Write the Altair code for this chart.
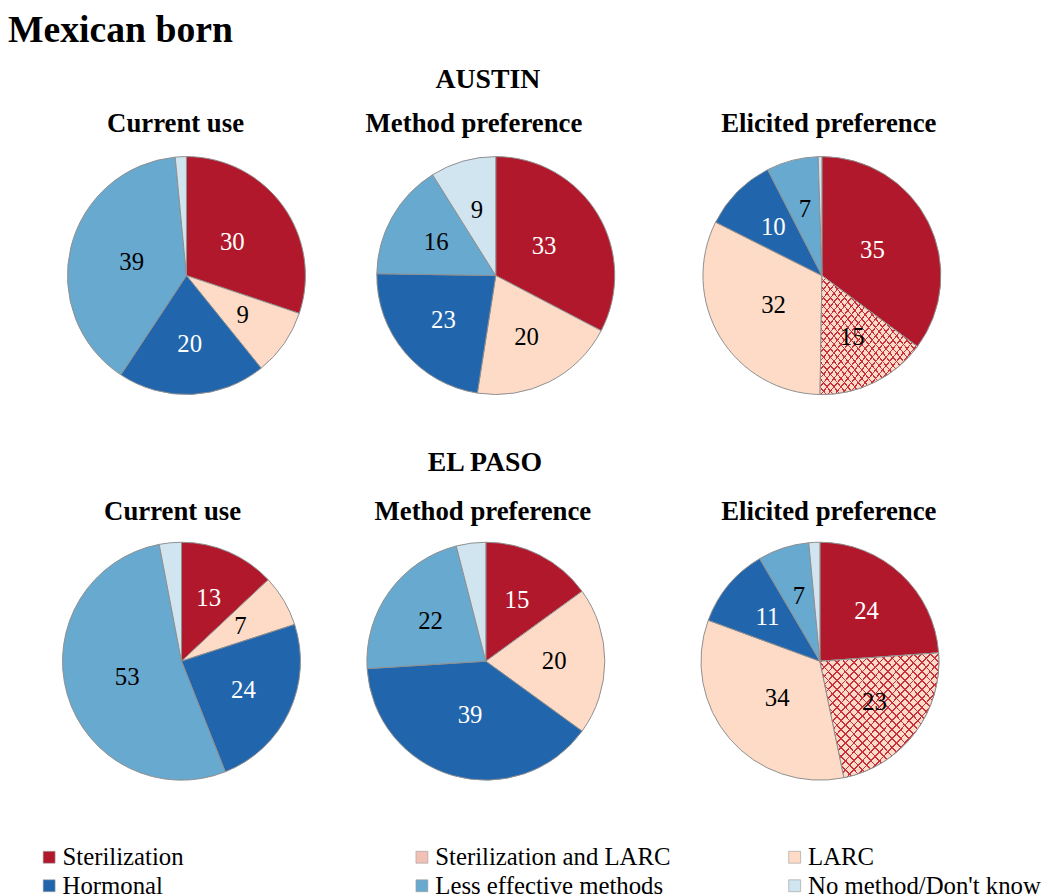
import altair as alt
import pandas as pd

categories = ["Sterilization", "Sterilization and LARC", "LARC", "Hormonal",
              "Less effective methods", "No method/Don't know"]
colors = ["#b2182b", "#f3c0b6", "#fddbc7", "#2166ac", "#67a9cf", "#d1e5f0"]
# legend reads row by row: Sterilization | Sterilization and LARC | LARC / Hormonal | Less effective | No method
legend_order = [0, 3, 1, 4, 2, 5]

austin_current = [30, 0, 9, 20, 39, 1.5]
austin_method = [33, 0, 20, 23, 16, 9]
austin_elicited = [35, 15, 32, 10, 7, 0.5]
elpaso_current = [13, 0, 7, 24, 53, 3]
elpaso_method = [15, 0, 20, 39, 22, 4]
elpaso_elicited = [24, 23, 34, 11, 7, 1.5]

FONT = "Liberation Serif"
GRAY = "#8f8f8f"
R = 120
HATCH_RED = "#c8303f"
HATCH_BG = "#fddbc7"


def hatch_gradient(x1, y1, x2, y2, bg, line, n=28, frac=0.2):
    stops = []
    for k in range(n):
        a = k / n
        b = (k + frac) / n
        c = (k + 1) / n
        stops += [alt.GradientStop(offset=a, color=line),
                  alt.GradientStop(offset=b, color=line),
                  alt.GradientStop(offset=b, color=bg),
                  alt.GradientStop(offset=c, color=bg)]
    return alt.LinearGradient(gradient="linear", stops=stops, x1=x1, y1=y1, x2=x2, y2=y2)


grad1 = hatch_gradient(0, 0, 1, 1, HATCH_BG, HATCH_RED)
grad2 = hatch_gradient(1, 0, 0, 1, "rgba(255,255,255,0)", HATCH_RED)

dom = [categories[i] for i in legend_order]
rng = [colors[i] for i in legend_order]

legend = alt.Legend(
    title=None, orient="none", legendX=29, legendY=694, columns=3, padding=0,
    symbolType="square", symbolSize=144, symbolStrokeColor="#9a9a9a",
    symbolStrokeWidth=0.6, labelFont=FONT, labelFontSize=25, labelColor="black",
    labelOffset=1, labelLimit=320, columnPadding=112, rowPadding=3, gridAlign="all",
)

hatched = alt.FieldEqualPredicate(field="category", equal="Sterilization and LARC")
dark = alt.FieldOneOfPredicate(field="category", oneOf=["Sterilization", "Hormonal"])


def pie(values, title, dx, width, toff):
    df = pd.DataFrame({"category": categories, "value": values, "idx": list(range(len(categories)))})
    df = df[df["value"] > 0]
    base = alt.Chart(df).encode(
        theta=alt.Theta("value:Q", stack=True),
        order=alt.Order("idx:Q"),
    )
    arcs = base.mark_arc(radius=R, stroke=GRAY, strokeWidth=1).encode(
        color=alt.Color("category:N", scale=alt.Scale(domain=dom, range=rng), legend=legend)
    )
    h1 = base.mark_arc(radius=R, fill=grad1, strokeWidth=0).encode(
        opacity=alt.condition(hatched, alt.value(1), alt.value(0))
    )
    h2 = base.mark_arc(radius=R, fill=grad2, stroke=GRAY, strokeWidth=1).encode(
        opacity=alt.condition(hatched, alt.value(1), alt.value(0))
    )
    txt_color = alt.condition(dark, alt.value("white"), alt.value("black"))
    big = base.mark_text(radius=57, font=FONT, fontSize=25).encode(
        text=alt.Text("label:N"), color=txt_color,
    ).transform_calculate(label="datum.value >= 25 ? '' + datum.value : ''")
    small = base.mark_text(radius=69, font=FONT, fontSize=25).encode(
        text=alt.Text("label:N"), color=txt_color,
    ).transform_calculate(label="datum.value >= 5 && datum.value < 25 ? '' + datum.value : ''")
    return alt.layer(arcs, h1, h2, big, small).properties(
        width=width, height=2 * R,
        title=alt.Title(title, dx=dx, anchor="middle", fontSize=27, offset=toff),
    )


row1 = alt.hconcat(
    pie(austin_current, "Current use", -11, 360, 17),
    pie(austin_method, "Method preference", -22, 256, 17),
    pie(austin_elicited, "Elicited preference", 7, 402, 17),
    spacing=0,
    title=alt.Title("AUSTIN", anchor="middle", dx=-27, fontSize=28, offset=16),
)
row2 = alt.hconcat(
    pie(elpaso_current, "Current use", -9, 350, 14),
    pie(elpaso_method, "Method preference", -3, 264, 14),
    pie(elpaso_elicited, "Elicited preference", 9, 410, 14),
    spacing=0,
    title=alt.Title("EL PASO", anchor="middle", dx=-31, fontSize=28, offset=22),
)

chart = alt.vconcat(row1, row2, spacing=53).properties(
    title=alt.Title("Mexican born", anchor="start", fontSize=38, offset=17),
    padding={"left": 0, "top": 0, "right": 0, "bottom": 0},
).resolve_scale(color="shared").configure_view(strokeWidth=0).configure_title(
    font=FONT, fontWeight="bold", color="black"
).configure_legend(labelFont=FONT, labelFontSize=25, labelColor="black")

chart.save("out.html", embed_options={"renderer": "svg", "actions": False})
